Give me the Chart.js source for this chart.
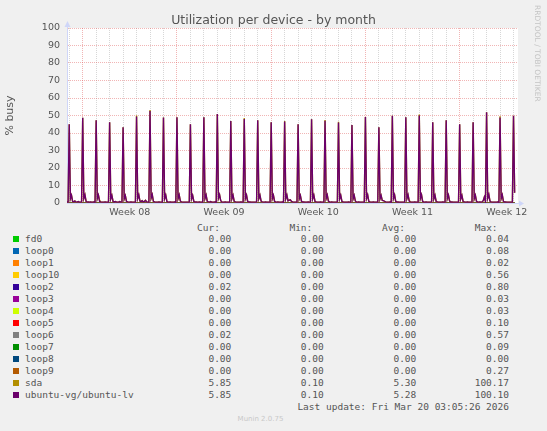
<!DOCTYPE html>
<html>
<head>
<meta charset="utf-8">
<script src="https://cdn.jsdelivr.net/npm/chart.js@4.4.1/dist/chart.umd.min.js"></script>
<style>
  body { margin: 0; background: #f0f0f0; }
  #wrap { position: relative; width: 547px; height: 431px; overflow: hidden; font-family: "DejaVu Sans", sans-serif; color: #555; }
  #chart { position: absolute; left: 0; top: 0; }
  .abs { position: absolute; white-space: pre; }
  #title { left: 0; width: 547px; top: 12px; text-align: center; font-size: 12.5px; line-height: 15px; }
  #mark { left: 533px; top: 5px; writing-mode: vertical-rl; font-size: 7.5px; line-height: 9px; color: #c4c4c4; }
  .mono { font-family: "DejaVu Sans Mono", monospace; font-size: 9.5px; line-height: 12px; }
  .sw { position: absolute; width: 6px; height: 6px; }
  #footer { left: 0; width: 521px; top: 415px; text-align: center; font-size: 7px; line-height: 9px; color: #c8c8c8; }
</style>
</head>
<body>
<div id="wrap">
  <canvas id="chart" width="547" height="220"></canvas>
  <div id="title" class="abs">Utilization per device - by month</div>
  <div id="mark" class="abs">RRDTOOL / TOBI OETIKER</div>
  <div id="legend"></div>
  <div id="footer" class="abs">Munin 2.0.75</div>
</div>
<script>
// ===== LEGEND TABLE =====
const deviceNames = ['fd0', 'loop0', 'loop1', 'loop10', 'loop2', 'loop3', 'loop4', 'loop5',
  'loop6', 'loop7', 'loop8', 'loop9', 'sda', 'ubuntu-vg/ubuntu-lv'];
const deviceColors = ['#00CC00', '#0066B3', '#FF8000', '#FFCC00', '#330099', '#990099', '#CCFF00',
  '#FF0000', '#808080', '#008F00', '#00487D', '#B35A00', '#B38F00', '#6B006B'];
const curValues = [0.00, 0.00, 0.00, 0.00, 0.02, 0.00, 0.00, 0.00, 0.02, 0.00, 0.00, 0.00, 5.85, 5.85];
const minValues = [0.00, 0.00, 0.00, 0.00, 0.00, 0.00, 0.00, 0.00, 0.00, 0.00, 0.00, 0.00, 0.10, 0.10];
const avgValues = [0.00, 0.00, 0.00, 0.00, 0.00, 0.00, 0.00, 0.00, 0.00, 0.00, 0.00, 0.00, 5.30, 5.28];
const maxValues = [0.04, 0.08, 0.02, 0.56, 0.80, 0.03, 0.03, 0.10, 0.57, 0.09, 0.00, 0.27, 100.17, 100.10];
const lastUpdate = 'Last update: Fri Mar 20 03:05:26 2026';

// ===== AXES =====
const weekLabels = ['Week 08', 'Week 09', 'Week 10', 'Week 11', 'Week 12'];
const yMax = 100;
const yStep = 5;
// x is counted in 2-hour samples; 0 = first day boundary on the graph
const firstSample = -2;
const lastSample = 400;
const samplesPerDay = 12;
const firstWeekStart = 12;

// ===== SERIES (2 h samples) =====
const leadIn = [0.6, 0.6];
const lvDays = [
  [45.0, 2.4, 4.4, 1.0, 0.6, 1.2, 0.6, 0.5, 0.8, 0.5, 0.5, 0.6],
  [48.7, 2.6, 4.6, 0.9, 0.5, 0.6, 0.5, 0.6, 0.5, 0.5, 0.6, 0.5],
  [47.3, 2.5, 4.5, 1.0, 0.6, 0.5, 0.5, 0.5, 0.6, 0.5, 0.5, 0.5],
  [46.2, 2.4, 4.3, 1.0, 0.5, 0.9, 0.6, 0.5, 0.5, 0.8, 0.5, 0.6],
  [43.3, 2.3, 4.2, 1.0, 0.6, 0.5, 0.5, 0.6, 0.5, 0.5, 0.5, 0.5],
  [49.4, 2.6, 4.6, 1.1, 0.8, 1.3, 0.6, 0.9, 1.5, 0.6, 0.5, 0.5],
  [52.5, 2.8, 4.8, 1.0, 0.6, 0.5, 0.5, 0.5, 0.6, 0.5, 0.5, 0.5],
  [48.9, 2.5, 4.5, 1.0, 0.5, 0.5, 0.6, 0.5, 0.5, 0.5, 0.6, 0.5],
  [49.0, 2.5, 4.6, 1.2, 0.6, 0.5, 0.5, 0.5, 0.5, 0.5, 0.5, 0.6],
  [45.0, 2.4, 4.3, 1.0, 0.5, 0.6, 0.5, 0.5, 0.6, 0.5, 0.5, 0.5],
  [49.0, 2.5, 4.5, 1.0, 0.6, 0.5, 0.8, 0.5, 0.5, 0.5, 0.6, 0.5],
  [50.8, 2.7, 4.7, 1.4, 0.5, 0.5, 0.5, 0.6, 0.5, 0.5, 0.5, 0.5],
  [46.8, 2.4, 4.4, 1.0, 0.6, 0.5, 0.5, 0.5, 0.5, 0.6, 0.5, 0.5],
  [48.0, 2.5, 4.5, 1.0, 0.5, 0.6, 0.5, 0.5, 0.5, 0.5, 0.5, 0.6],
  [47.3, 2.5, 4.4, 1.1, 0.6, 0.5, 0.5, 0.6, 0.5, 0.5, 0.5, 0.5],
  [46.2, 2.4, 4.4, 1.0, 0.5, 0.5, 0.6, 0.5, 0.5, 0.5, 0.6, 0.5],
  [46.6, 2.4, 4.5, 1.2, 1.6, 1.8, 1.0, 0.6, 0.5, 0.5, 0.5, 0.5],
  [45.0, 2.4, 4.3, 1.0, 0.5, 0.6, 0.5, 0.5, 0.5, 0.6, 0.5, 0.5],
  [47.9, 2.5, 4.5, 1.0, 0.6, 0.5, 0.5, 0.5, 0.6, 0.5, 0.5, 0.5],
  [47.0, 2.5, 4.5, 1.1, 0.5, 0.5, 0.6, 0.5, 0.5, 0.5, 0.5, 0.6],
  [46.0, 2.4, 4.4, 1.0, 0.6, 0.5, 0.5, 0.5, 0.5, 0.6, 0.5, 0.5],
  [44.5, 2.3, 4.3, 1.2, 0.5, 0.5, 0.6, 0.5, 0.5, 0.5, 0.5, 0.5],
  [49.2, 2.6, 4.6, 1.0, 0.6, 0.5, 0.5, 0.6, 0.5, 0.5, 0.5, 0.5],
  [43.3, 2.3, 4.2, 1.5, 1.4, 1.0, 0.6, 0.5, 0.5, 0.5, 0.6, 0.5],
  [49.8, 2.6, 4.6, 1.0, 0.5, 0.6, 0.5, 0.5, 0.5, 0.5, 0.5, 0.5],
  [49.0, 2.5, 4.6, 1.1, 0.6, 0.5, 0.5, 0.5, 0.6, 0.5, 0.5, 0.5],
  [50.0, 2.6, 4.7, 1.0, 0.5, 0.5, 0.6, 0.5, 0.5, 0.5, 0.5, 0.6],
  [46.2, 2.4, 4.4, 1.0, 0.6, 0.5, 0.5, 0.5, 0.5, 0.6, 0.5, 0.5],
  [47.3, 2.5, 4.5, 1.2, 0.5, 0.6, 0.5, 0.5, 0.5, 0.5, 0.5, 0.5],
  [45.0, 2.4, 4.3, 1.0, 0.6, 0.5, 0.5, 0.6, 0.5, 0.5, 0.5, 0.5],
  [46.2, 2.4, 4.4, 1.0, 0.5, 0.5, 0.6, 0.5, 0.6, 1.3, 3.4, 0.8],
  [51.9, 2.7, 4.8, 1.1, 0.6, 0.5, 0.5, 0.5, 0.5, 0.5, 0.6, 0.5],
  [48.9, 2.5, 4.6, 1.0, 0.5, 0.6, 0.5, 0.5, 0.5, 0.5, 0.5, 0.5],
  [49.8, 5.85]
];
const sdaDays = [
  [45.0, 2.4, 4.4, 1.0, 0.6, 1.2, 0.6, 0.5, 0.8, 0.5, 0.5, 0.6],
  [48.7, 2.6, 4.6, 0.9, 0.5, 0.6, 0.5, 0.6, 0.5, 0.5, 0.6, 0.5],
  [47.3, 2.5, 4.5, 1.6, 0.6, 0.5, 0.5, 0.5, 0.6, 0.5, 0.5, 0.5],
  [46.2, 2.4, 4.3, 1.0, 0.5, 0.9, 0.6, 0.5, 0.5, 0.8, 0.5, 0.6],
  [43.3, 2.3, 4.2, 1.0, 0.6, 0.5, 0.5, 0.6, 0.5, 0.5, 0.5, 0.5],
  [50.0, 2.6, 4.6, 1.1, 0.8, 1.3, 0.6, 0.9, 1.5, 0.6, 0.5, 0.5],
  [53.2, 2.8, 4.8, 1.0, 0.6, 0.5, 0.5, 0.5, 0.6, 0.5, 0.5, 0.5],
  [48.9, 2.5, 4.5, 1.0, 0.5, 0.5, 0.6, 0.5, 0.5, 0.5, 0.6, 0.5],
  [49.0, 2.5, 4.6, 1.2, 0.6, 0.5, 0.5, 0.5, 0.5, 0.5, 0.5, 0.6],
  [45.0, 2.4, 4.3, 1.0, 0.5, 0.6, 0.5, 0.5, 0.6, 0.5, 0.5, 0.5],
  [49.0, 2.5, 4.5, 1.0, 0.6, 0.5, 0.8, 0.5, 0.5, 0.5, 0.6, 0.5],
  [50.8, 2.7, 4.7, 1.4, 0.5, 0.5, 0.5, 0.6, 0.5, 0.5, 0.5, 0.5],
  [46.8, 2.4, 4.4, 1.0, 0.6, 0.5, 0.5, 0.5, 0.5, 0.6, 0.5, 0.5],
  [48.6, 2.5, 4.5, 1.0, 0.5, 0.6, 0.5, 0.5, 0.5, 0.5, 0.5, 0.6],
  [47.3, 2.5, 4.4, 1.1, 0.6, 0.5, 0.5, 0.6, 0.5, 0.5, 0.5, 0.5],
  [46.2, 2.4, 4.4, 1.0, 0.5, 0.5, 0.6, 0.5, 0.5, 0.5, 0.6, 0.5],
  [46.9, 2.4, 4.5, 1.2, 1.6, 1.8, 1.0, 0.6, 0.5, 0.5, 0.5, 0.5],
  [45.0, 2.4, 4.3, 1.0, 0.5, 0.6, 0.5, 0.5, 0.5, 0.6, 0.5, 0.5],
  [47.9, 2.5, 4.5, 1.0, 0.6, 0.5, 0.5, 0.5, 0.6, 0.5, 0.5, 0.5],
  [47.4, 2.5, 4.5, 1.1, 0.5, 0.5, 0.6, 0.5, 0.5, 0.5, 0.5, 0.6],
  [46.4, 2.4, 4.4, 1.0, 0.6, 0.5, 0.5, 0.5, 0.5, 0.6, 0.5, 0.5],
  [44.5, 2.3, 4.3, 1.2, 0.5, 0.5, 0.6, 0.5, 0.5, 0.5, 0.5, 0.5],
  [49.2, 2.6, 4.6, 1.0, 0.6, 0.5, 0.5, 0.6, 0.5, 0.5, 0.5, 0.5],
  [43.3, 2.3, 4.2, 1.5, 1.4, 1.0, 0.6, 0.5, 0.5, 0.5, 0.6, 0.5],
  [49.8, 2.6, 4.6, 1.0, 0.5, 0.6, 0.5, 0.5, 0.5, 0.5, 0.5, 0.5],
  [49.0, 2.5, 4.6, 1.6, 0.6, 0.5, 0.5, 0.5, 0.6, 0.5, 0.5, 0.5],
  [50.6, 2.6, 4.7, 1.0, 0.5, 0.5, 0.6, 0.5, 0.5, 0.5, 0.5, 0.6],
  [46.2, 2.4, 4.4, 1.0, 0.6, 0.5, 0.5, 0.5, 0.5, 0.6, 0.5, 0.5],
  [47.3, 2.5, 4.5, 1.2, 0.5, 0.6, 0.5, 0.5, 0.5, 0.5, 0.5, 0.5],
  [45.0, 2.4, 4.3, 1.0, 0.6, 0.5, 0.5, 0.6, 0.5, 0.5, 0.5, 0.5],
  [46.2, 2.4, 4.4, 1.0, 0.5, 0.5, 0.6, 0.5, 0.6, 1.3, 3.4, 0.8],
  [51.9, 2.7, 4.8, 1.1, 0.6, 0.5, 0.5, 0.5, 0.5, 0.5, 0.6, 0.5],
  [49.5, 2.5, 4.6, 1.0, 0.5, 0.6, 0.5, 0.5, 0.5, 0.5, 0.5, 0.5],
  [49.8, 5.85]
];

// ===== BUILD DATASETS =====
function toPoints(days) {
  const values = leadIn.concat(...days);
  return values.map((y, i) => ({ x: firstSample + i, y: y }));
}
const lvPoints = toPoints(lvDays);
const sdaPoints = toPoints(sdaDays);
const dataEnd = lvPoints[lvPoints.length - 1].x;

const datasets = deviceNames.map((name, i) => {
  let data;
  let width = 1;
  if (name === 'sda') { data = sdaPoints; width = 1.4; }
  else if (name === 'ubuntu-vg/ubuntu-lv') { data = lvPoints; width = 1.4; }
  else data = [{ x: firstSample, y: minValues[i] }, { x: dataEnd, y: minValues[i] }];
  return {
    label: name,
    data: data,
    borderColor: deviceColors[i],
    borderWidth: width,
    pointRadius: 0,
    tension: 0,
    // rrdtool paints the last device on top
    order: deviceNames.length - 1 - i
  };
});

// ===== PLUGINS =====
const MAJOR = 'rgba(222, 79, 79, 0.42)';
const MINOR = 'rgba(150, 150, 150, 0.38)';
const AXIS = '#CFD6F8';

const canvasBg = {
  id: 'canvasBg',
  beforeDraw(chart) {
    const a = chart.chartArea;
    chart.ctx.save();
    chart.ctx.fillStyle = '#ffffff';
    chart.ctx.fillRect(a.left, a.top, a.right - a.left, a.bottom - a.top);
    chart.ctx.restore();
  }
};

const axisArrows = {
  id: 'axisArrows',
  afterDraw(chart) {
    const ctx = chart.ctx;
    const a = chart.chartArea;
    ctx.save();
    ctx.fillStyle = AXIS;
    ctx.strokeStyle = AXIS;
    ctx.lineWidth = 1;
    ctx.beginPath();
    ctx.moveTo(a.left + 0.5, a.top);
    ctx.lineTo(a.left + 0.5, a.top - 2);
    ctx.stroke();
    ctx.beginPath();
    ctx.moveTo(a.left + 0.5, a.top - 7);
    ctx.lineTo(a.left - 2.5, a.top - 1);
    ctx.lineTo(a.left + 3.5, a.top - 1);
    ctx.closePath();
    ctx.fill();
    ctx.beginPath();
    ctx.moveTo(a.right + 6, a.bottom + 0.5);
    ctx.lineTo(a.right + 1, a.bottom - 2.5);
    ctx.lineTo(a.right + 1, a.bottom + 3.5);
    ctx.closePath();
    ctx.fill();
    ctx.restore();
  }
};

// ===== CHART =====
const tickFont = { family: 'DejaVu Sans', size: 9.5 };

new Chart(document.getElementById('chart'), {
  type: 'line',
  data: { datasets: datasets },
  options: {
    responsive: false,
    animation: false,
    layout: { padding: { top: 28, right: 29, left: 0, bottom: 0 } },
    plugins: { legend: { display: false }, tooltip: { enabled: false } },
    scales: {
      x: {
        type: 'linear',
        min: firstSample,
        max: lastSample,
        afterBuildTicks: scale => {
          const ticks = [];
          for (let v = 0; v <= lastSample; v += samplesPerDay / 2) ticks.push({ value: v });
          scale.ticks = ticks;
        },
        afterFit: scale => { scale.height = 17; },
        grid: {
          drawTicks: false,
          color: ctx => {
            const v = ctx.tick.value;
            if ((v - firstWeekStart) % (samplesPerDay * 7) === 0) return MAJOR;
            if (v % samplesPerDay === 0) return MINOR;
            return 'rgba(0,0,0,0)';
          }
        },
        border: { color: AXIS, dash: [1, 1] },
        ticks: {
          autoSkip: false,
          maxRotation: 0,
          padding: 4,
          color: '#555',
          font: tickFont,
          callback: v => {
            const k = (v - firstWeekStart - samplesPerDay * 3.5) / (samplesPerDay * 7);
            return Number.isInteger(k) && weekLabels[k] ? weekLabels[k] : '';
          }
        }
      },
      y: {
        min: 0,
        max: yMax,
        afterFit: scale => { scale.width = 67; },
        grid: {
          drawTicks: false,
          color: ctx => (ctx.tick.value % 10 === 0 ? MAJOR : MINOR)
        },
        border: { color: AXIS, dash: [1, 1] },
        ticks: {
          stepSize: yStep,
          padding: 7,
          color: '#555',
          font: tickFont,
          callback: v => (v % 10 === 0 ? v : '')
        },
        title: {
          display: true,
          text: '% busy',
          color: '#555',
          font: { family: 'DejaVu Sans', size: 11 }
        }
      }
    }
  },
  plugins: [canvasBg, axisArrows]
});

// ===== LEGEND =====
const legendEl = document.getElementById('legend');
const rowTop = 239.3;
const rowStep = 12;
const colRight = [231.3, 323.7, 416.3, 509];
const colNames = ['Cur:', 'Min:', 'Avg:', 'Max:'];
const columns = [curValues, minValues, avgValues, maxValues];

function textAt(text, rightEdge, centerY) {
  const d = document.createElement('div');
  d.className = 'abs mono';
  d.style.left = (rightEdge - 300) + 'px';
  d.style.width = '300px';
  d.style.textAlign = 'right';
  d.style.top = (centerY - 6) + 'px';
  d.textContent = text;
  legendEl.appendChild(d);
}

colNames.forEach((h, c) => textAt(h, colRight[c] - 11.4, rowTop - 11.6));

deviceNames.forEach((name, i) => {
  const y = rowTop + i * rowStep;
  const sw = document.createElement('div');
  sw.className = 'sw';
  sw.style.left = '13px';
  sw.style.top = (y - 3) + 'px';
  sw.style.background = deviceColors[i];
  legendEl.appendChild(sw);

  const label = document.createElement('div');
  label.className = 'abs mono';
  label.style.left = '25px';
  label.style.top = (y - 6) + 'px';
  label.textContent = name;
  legendEl.appendChild(label);

  columns.forEach((col, c) => textAt(col[i].toFixed(2), colRight[c], y));
});

textAt(lastUpdate, 509, 407.3);
</script>
</body>
</html>
